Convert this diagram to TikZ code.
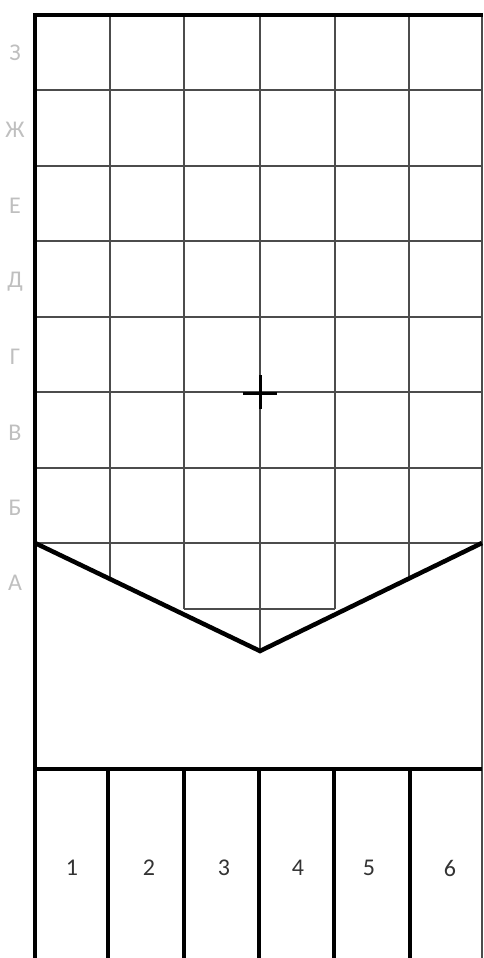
\documentclass[tikz,border=0pt]{standalone}
\usepackage{fontspec}
\setmainfont{Carlito}
\begin{document}
\begin{tikzpicture}[x=1pt,y=-1pt,
  thickline/.style={line width=4.5pt,black},
  gridline/.style={line width=1.3pt,black!70},
  rowlabel/.style={text=black!25,font=\fontsize{24}{24}\selectfont,anchor=center,inner sep=0pt},
  numlabel/.style={text=black!80,font=\fontsize{24}{24}\selectfont,anchor=center,inner sep=0pt}]
\useasboundingbox (0,0) rectangle (483,958);
% grid
\foreach \x in {110,184,260,335,409} \draw[gridline] (\x,15) -- (\x,543);
\foreach \y in {90,166,241,317,392,468,543} \draw[gridline] (35,\y) -- (482,\y);
\draw[gridline] (110,543) -- (110,578);
\draw[gridline] (409,543) -- (409,578);
\draw[gridline] (184,543) -- (184,609);
\draw[gridline] (335,543) -- (335,609);
\draw[gridline] (260,543) -- (260,651);
\draw[gridline] (184,609) -- (335,609);
\draw[gridline] (482,15) -- (482,958);
% cross
\draw[line width=3pt] (243,393) -- (277,393);
\draw[line width=3pt] (260,375) -- (260,409);
% thick outline
\draw[thickline] (33,15) -- (483,15);
\draw[thickline] (35,13) -- (35,958);
\draw[thickline,line join=miter] (35,543) -- (260,651) -- (482,543);
\draw[thickline] (35,769) -- (482,769);
\foreach \x in {108,184,259,334,410} \draw[thickline] (\x,769) -- (\x,958);
% labels
\node[rowlabel] (lz) at (15,53) {З};
\node[rowlabel] (lzh) at (15,130) {Ж};
\node[rowlabel] (le) at (15,206) {Е};
\node[rowlabel] (ld) at (15,282) {Д};
\node[rowlabel] (lg) at (15,357) {Г};
\node[rowlabel] (lv) at (15,433) {В};
\node[rowlabel] (lb) at (15,508) {Б};
\node[rowlabel] (la) at (15,583) {А};
\node[numlabel] (n1) at (72,868) {1};
\node[numlabel] (n2) at (149,868) {2};
\node[numlabel] (n3) at (224,868) {3};
\node[numlabel] (n4) at (298,868) {4};
\node[numlabel] (n5) at (369,868) {5};
\node[numlabel] (n6) at (450,868) {6};
\end{tikzpicture}
\end{document}
